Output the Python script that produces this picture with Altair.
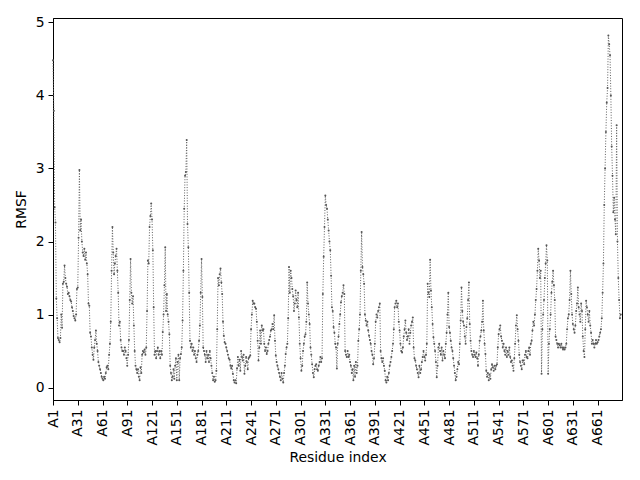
import altair as alt
import pandas as pd

# RMSF values per residue, A1..A689, in blocks of 30 residues
rmsf_001_030 = [4.48, 3.79, 2.47, 2.26, 1.22, 0.95, 0.68, 0.65, 0.62, 0.68,
                1.0, 0.82, 1.42, 1.45, 1.67, 1.5, 1.42, 1.38, 1.28, 1.3,
                1.25, 1.2, 1.18, 1.1, 1.05, 0.98, 0.95, 0.92, 1.0, 1.35]
rmsf_031_060 = [1.37, 2.05, 2.98, 2.15, 2.3, 2.0, 1.85, 1.8, 1.9, 1.75,
                1.85, 1.7, 1.55, 1.15, 1.12, 0.75, 0.7, 0.55, 0.45, 0.38,
                0.55, 0.65, 0.78, 0.6, 0.5, 0.35, 0.3, 0.25, 0.2, 0.15]
rmsf_061_090 = [0.12, 0.1, 0.15, 0.12, 0.2, 0.28, 0.3, 0.25, 0.45, 0.6,
                0.9, 1.6, 2.2, 1.85, 1.55, 1.7, 1.8, 1.9, 1.6, 1.3,
                0.85, 0.9, 0.65, 0.55, 0.5, 0.5, 0.45, 0.55, 0.5, 0.4]
rmsf_091_120 = [0.3, 0.45, 0.65, 1.2, 1.76, 1.3, 1.15, 1.25, 0.85, 0.5,
                0.3, 0.25, 0.2, 0.25, 0.15, 0.1, 0.28, 0.2, 0.45, 0.5,
                0.48, 0.52, 0.45, 0.55, 1.05, 1.74, 1.7, 2.2, 2.35, 2.52]
rmsf_121_150 = [2.3, 1.88, 1.1, 0.45, 0.5, 0.4, 0.5, 0.55, 0.45, 0.5,
                0.4, 0.5, 0.45, 0.76, 1.0, 1.4, 1.92, 1.05, 1.28, 1.0,
                0.9, 0.73, 0.3, 0.2, 0.1, 0.15, 0.25, 0.12, 0.3, 0.4]
rmsf_151_180 = [0.1, 0.35, 0.45, 0.1, 0.4, 0.46, 0.55, 0.92, 1.6, 2.45,
                2.9, 2.95, 3.39, 2.24, 1.92, 1.3, 0.64, 0.55, 0.6, 0.5,
                0.55, 0.45, 0.5, 0.4, 0.35, 0.45, 0.5, 0.64, 0.85, 1.3]
rmsf_181_210 = [1.76, 1.24, 0.55, 0.5, 0.45, 0.35, 0.5, 0.4, 0.45, 0.35,
                0.5, 0.4, 0.3, 0.2, 0.1, 0.15, 0.08, 0.1, 0.23, 0.8,
                1.5, 1.4, 1.55, 1.63, 1.44, 1.28, 0.9, 0.71, 0.62, 0.6]
rmsf_211_240 = [0.55, 0.5, 0.45, 0.4, 0.38, 0.3, 0.26, 0.3, 0.19, 0.1,
                0.07, 0.1, 0.06, 0.26, 0.42, 0.3, 0.38, 0.23, 0.5, 0.42,
                0.37, 0.45, 0.19, 0.3, 0.42, 0.35, 0.25, 0.4, 0.42, 0.44]
rmsf_241_270 = [0.8, 1.0, 1.19, 1.15, 1.15, 1.1, 1.08, 0.9, 0.64, 0.37,
                0.55, 0.78, 0.6, 0.85, 0.78, 0.8, 0.6, 0.5, 0.55, 0.46,
                0.5, 0.6, 0.65, 0.7, 0.78, 0.8, 0.87, 0.8, 0.99, 0.64]
rmsf_271_300 = [0.44, 0.35, 0.3, 0.25, 0.2, 0.15, 0.1, 0.2, 0.12, 0.07,
                0.2, 0.3, 0.46, 0.55, 0.6, 0.95, 1.65, 1.3, 1.6, 1.5,
                1.35, 1.25, 1.05, 1.15, 1.33, 1.2, 1.1, 1.3, 0.96, 0.6]
rmsf_301_330 = [0.4, 0.23, 0.3, 0.5, 0.6, 0.7, 0.73, 0.9, 1.44, 1.15,
                1.0, 0.87, 0.55, 0.45, 0.32, 0.2, 0.14, 0.25, 0.3, 0.32,
                0.25, 0.23, 0.3, 0.35, 0.42, 0.35, 0.4, 1.28, 1.79, 2.2]
rmsf_331_360 = [2.63, 2.5, 2.45, 2.3, 2.15, 2.0, 1.88, 1.53, 1.1, 1.05,
                0.83, 0.75, 0.6, 0.55, 0.26, 0.6, 0.7, 0.87, 1.0, 1.17,
                1.25, 1.3, 1.4, 1.28, 0.5, 0.45, 0.42, 0.5, 0.42, 0.45]
rmsf_361_390 = [0.35, 0.3, 0.2, 0.25, 0.1, 0.3, 0.15, 0.35, 0.2, 0.3,
                0.64, 0.8, 1.0, 1.6, 2.13, 1.65, 1.55, 1.42, 1.0, 0.92,
                0.85, 0.9, 0.78, 0.71, 0.65, 0.6, 0.5, 0.45, 0.32, 0.4]
rmsf_391_420 = [0.6, 0.9, 1.0, 0.96, 1.05, 1.1, 1.15, 0.5, 0.4, 0.35,
                0.4, 0.3, 0.23, 0.1, 0.07, 0.15, 0.1, 0.2, 0.3, 0.35,
                0.42, 0.5, 0.6, 0.8, 1.1, 1.15, 1.19, 1.1, 1.15, 0.9]
rmsf_421_450 = [0.78, 0.6, 0.5, 0.48, 0.55, 0.7, 0.8, 0.92, 0.75, 0.65,
                0.7, 0.8, 0.6, 0.75, 0.85, 0.9, 0.96, 0.55, 0.4, 0.37,
                0.3, 0.25, 0.2, 0.14, 0.3, 0.2, 0.25, 0.35, 0.42, 0.5]
rmsf_451_480 = [0.42, 0.37, 0.45, 0.6, 1.42, 1.3, 1.24, 1.75, 1.33, 1.1,
                0.87, 0.69, 0.6, 0.5, 0.35, 0.14, 0.3, 0.55, 0.6, 0.5,
                0.45, 0.55, 0.37, 0.5, 0.45, 0.4, 0.6, 0.75, 1.0, 1.3]
rmsf_481_510 = [0.83, 0.75, 0.64, 0.55, 0.5, 0.4, 0.3, 0.2, 0.1, 0.15,
                0.25, 0.35, 0.32, 0.6, 0.92, 1.37, 1.05, 0.9, 0.85, 0.7,
                0.6, 0.83, 0.95, 1.2, 1.44, 0.87, 0.64, 0.5, 0.45, 0.42]
rmsf_511_540 = [0.5, 0.45, 0.42, 0.48, 0.4, 0.3, 0.45, 0.64, 0.7, 0.78,
                0.9, 1.19, 0.78, 0.6, 0.46, 0.23, 0.15, 0.2, 0.1, 0.18,
                0.12, 0.25, 0.32, 0.28, 0.23, 0.3, 0.25, 0.3, 0.32, 0.55]
rmsf_541_570 = [0.73, 0.8, 0.85, 0.7, 0.64, 0.55, 0.6, 0.5, 0.45, 0.55,
                0.42, 0.5, 0.45, 0.55, 0.42, 0.35, 0.37, 0.3, 0.23, 0.4,
                0.6, 0.85, 0.99, 0.8, 0.64, 0.45, 0.35, 0.3, 0.25, 0.37]
rmsf_571_600 = [0.37, 0.32, 0.45, 0.5, 0.42, 0.4, 0.5, 0.55, 0.45, 0.6,
                0.64, 0.78, 0.9, 0.85, 1.0, 1.2, 1.35, 1.6, 1.9, 1.74,
                1.5, 1.6, 0.19, 0.8, 1.0, 1.2, 1.5, 1.7, 1.95, 1.74]
rmsf_601_630 = [0.19, 0.6, 0.8, 1.0, 1.3, 1.45, 1.6, 1.4, 1.2, 0.7,
                0.65, 0.6, 0.55, 0.6, 0.58, 0.55, 0.6, 0.55, 0.52, 0.55,
                0.52, 0.55, 0.6, 0.8, 0.95, 1.0, 1.2, 1.6, 1.28, 1.0]
rmsf_631_660 = [0.87, 0.8, 0.75, 0.85, 1.05, 1.15, 1.37, 1.1, 1.0, 0.9,
                1.15, 1.05, 0.7, 0.5, 0.42, 0.8, 1.19, 1.1, 1.0, 0.9,
                1.05, 0.85, 0.75, 0.6, 0.65, 0.6, 0.55, 0.6, 0.65, 0.6]
rmsf_661_689 = [0.62, 0.65, 0.7, 0.75, 0.8, 0.95, 1.3, 1.7, 2.5, 3.0,
                3.5, 3.9, 4.1, 4.82, 4.7, 4.55, 4.0, 3.3, 2.9, 2.4,
                2.6, 2.3, 2.1, 3.59, 2.0, 1.5, 1.2, 0.95, 1.0]

rmsf = (rmsf_001_030 + rmsf_031_060 + rmsf_061_090 + rmsf_091_120 + rmsf_121_150
        + rmsf_151_180 + rmsf_181_210 + rmsf_211_240 + rmsf_241_270 + rmsf_271_300
        + rmsf_301_330 + rmsf_331_360 + rmsf_361_390 + rmsf_391_420 + rmsf_421_450
        + rmsf_451_480 + rmsf_481_510 + rmsf_511_540 + rmsf_541_570 + rmsf_571_600
        + rmsf_601_630 + rmsf_631_660 + rmsf_661_689)

tick_positions = list(range(0, 661, 30))  # labelled A1, A31, ..., A661
y_ticks = [0, 1, 2, 3, 4, 5]

df = pd.DataFrame({"idx": list(range(len(rmsf))), "rmsf": rmsf})

FONT = "DejaVu Sans"

x_enc = alt.X(
    "idx:Q",
    scale=alt.Scale(domain=[0, 689.5], nice=False, zero=False),
    axis=alt.Axis(
        values=tick_positions,
        labelExpr="'A' + (datum.value + 1)",
        labelAngle=270,
        labelAlign="right",
        labelBaseline="middle",
        title="Residue index",
        titleFontWeight="normal",
        grid=False,
        tickSize=5,
        labelPadding=4,
        titlePadding=5,
        labelFlush=False,
        labelOverlap=False,
    ),
)
y_enc = alt.Y(
    "rmsf:Q",
    scale=alt.Scale(domain=[-0.17, 5.06], nice=False, zero=False),
    axis=alt.Axis(
        values=y_ticks,
        title="RMSF",
        titleFontWeight="normal",
        grid=False,
        tickSize=5,
        labelPadding=4,
        titlePadding=7,
        labelFlush=False,
    ),
)

line = alt.Chart(df).mark_line(
    color="#606060", strokeWidth=1, strokeDash=[1, 1.65]
).encode(x=x_enc, y=y_enc)

pts = alt.Chart(df).mark_point(
    filled=True, color="#555555", size=4, opacity=1
).encode(x=x_enc, y=y_enc)

chart = (
    alt.layer(line, pts)
    .properties(
        width=569,
        height=382,
        background="white",
        autosize=alt.AutoSizeParams(type="none"),
        padding={"left": 45, "top": 10, "right": 10, "bottom": 70},
    )
    .configure_view(stroke="black", strokeWidth=1)
    .configure_axis(
        domainColor="black",
        tickColor="black",
        labelColor="black",
        titleColor="black",
        labelFont=FONT,
        titleFont=FONT,
        labelFontSize=13.9,
        titleFontSize=13.9,
        titleFontWeight="normal",
        domainWidth=1,
        tickWidth=1,
    )
)

chart.save("out.html", embed_options={"renderer": "svg", "actions": False})
